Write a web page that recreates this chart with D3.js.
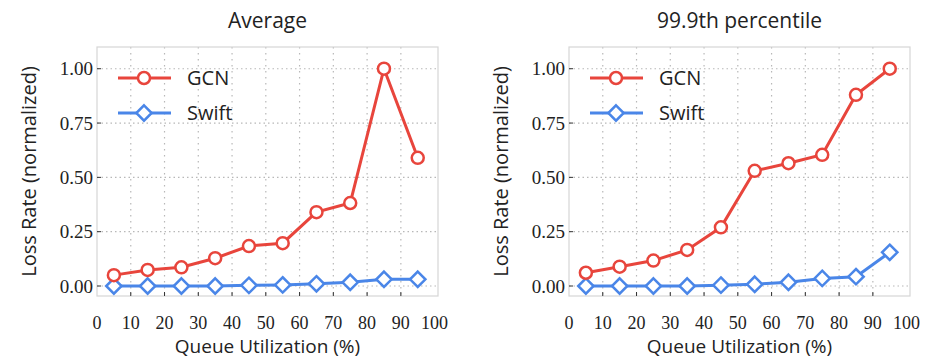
<!DOCTYPE html>
<html>
<head>
<meta charset="utf-8">
<script src="https://cdn.jsdelivr.net/npm/d3@7"></script>
<style>
  body { margin: 0; background: #fff; }
  svg { display: block; }
</style>
</head>
<body>
<div id="chart"></div>
<script>
const width = 928;
const height = 359;

// queue utilization buckets (%)
const utilization = [5, 15, 25, 35, 45, 55, 65, 75, 85, 95];
const xTicks = [0, 10, 20, 30, 40, 50, 60, 70, 80, 90, 100];
const yTicks = [0, 0.25, 0.5, 0.75, 1.0];

const avgGCN = [0.05, 0.074, 0.086, 0.128, 0.184, 0.197, 0.34, 0.382, 1.0, 0.59];
const avgSwift = [0, 0, 0, 0, 0.003, 0.005, 0.01, 0.017, 0.031, 0.031];
const p999GCN = [0.061, 0.089, 0.117, 0.166, 0.27, 0.53, 0.565, 0.604, 0.88, 1.0];
const p999Swift = [0, 0, 0, 0, 0.004, 0.008, 0.017, 0.035, 0.043, 0.155];

const panels = [
    { title: "Average", left: 97, gcn: avgGCN, swift: avgSwift },
    { title: "99.9th percentile", left: 569, gcn: p999GCN, swift: p999Swift }
];

const red = "#e8453c";
const blue = "#4a86e8";
const plotTop = 47;
const plotBottom = 296;
const plotWidth = 341;
const sans = "'Open Sans'";
const serif = "'Liberation Serif'";

const svg = d3.select("#chart")
    .append("svg")
    .attr("width", width)
    .attr("height", height);

panels.forEach(p => {
    const x = d3.scaleLinear().domain([0, 101]).range([p.left, p.left + plotWidth]);
    const y = d3.scaleLinear().domain([-0.046, 1.1]).range([plotBottom, plotTop]);
    const g = svg.append("g");

    // grid
    g.selectAll(".vg").data(xTicks.slice(1, -1)).join("line")
        .attr("x1", d => x(d)).attr("x2", d => x(d))
        .attr("y1", plotTop).attr("y2", plotBottom)
        .attr("stroke", "#b8b8b8").attr("stroke-width", 1.2)
        .attr("stroke-dasharray", "1.5,4.5");
    g.selectAll(".hg").data(yTicks).join("line")
        .attr("x1", p.left).attr("x2", p.left + plotWidth)
        .attr("y1", d => y(d)).attr("y2", d => y(d))
        .attr("stroke", "#b8b8b8").attr("stroke-width", 1.2)
        .attr("stroke-dasharray", "1.5,3");

    // frame
    g.append("rect")
        .attr("x", p.left).attr("y", plotTop)
        .attr("width", plotWidth).attr("height", plotBottom - plotTop)
        .attr("fill", "none").attr("stroke", "#d6d6d6").attr("stroke-width", 1.2);

    // tick marks inside frame
    g.selectAll(".yt").data(yTicks).join("line")
        .attr("x1", p.left).attr("x2", p.left + 4)
        .attr("y1", d => y(d)).attr("y2", d => y(d))
        .attr("stroke", "#333").attr("stroke-width", 1);
    g.selectAll(".xt").data(xTicks.slice(1, -1)).join("line")
        .attr("x1", d => x(d)).attr("x2", d => x(d))
        .attr("y1", plotBottom).attr("y2", plotBottom - 4)
        .attr("stroke", "#333").attr("stroke-width", 1);

    // tick labels
    g.selectAll(".yl").data(yTicks).join("text")
        .attr("x", p.left - 4).attr("y", d => y(d))
        .attr("dy", "0.35em").attr("text-anchor", "end")
        .attr("font-family", serif).attr("font-size", 19)
        .attr("fill", "#222")
        .text(d => d3.format(".2f")(d));
    g.selectAll(".xl").data(xTicks).join("text")
        .attr("x", d => x(d)).attr("y", 329)
        .attr("text-anchor", "middle")
        .attr("font-family", serif).attr("font-size", 18)
        .attr("fill", "#222")
        .text(d => d);

    // titles
    g.append("text")
        .attr("x", p.left + plotWidth / 2).attr("y", 28)
        .attr("text-anchor", "middle")
        .attr("font-family", sans).attr("font-size", 21)
        .attr("fill", "#222").text(p.title);
    g.append("text")
        .attr("x", p.left + plotWidth / 2).attr("y", 353)
        .attr("text-anchor", "middle")
        .attr("font-family", sans).attr("font-size", 19)
        .attr("fill", "#222").text("Queue Utilization (%)");
    g.append("text")
        .attr("transform", `translate(${p.left - 68},${(plotTop + plotBottom) / 2}) rotate(-90)`)
        .attr("dy", "0.35em")
        .attr("text-anchor", "middle")
        .attr("font-family", sans).attr("font-size", 20)
        .attr("fill", "#222").text("Loss Rate (normalized)");

    const line = d3.line().x((d, i) => x(utilization[i])).y(d => y(d));
    const diamond = d3.symbol().type(d3.symbolDiamond2).size(150);

    // Swift
    g.append("path").datum(p.swift)
        .attr("d", line).attr("fill", "none")
        .attr("stroke", blue).attr("stroke-width", 3);
    g.selectAll(".sm").data(p.swift).join("path")
        .attr("transform", (d, i) => `translate(${x(utilization[i])},${y(d)})`)
        .attr("d", diamond)
        .attr("fill", "#fff").attr("stroke", blue).attr("stroke-width", 2.5);

    // GCN
    g.append("path").datum(p.gcn)
        .attr("d", line).attr("fill", "none")
        .attr("stroke", red).attr("stroke-width", 3);
    g.selectAll(".gm").data(p.gcn).join("circle")
        .attr("cx", (d, i) => x(utilization[i])).attr("cy", d => y(d))
        .attr("r", 6)
        .attr("fill", "#fff").attr("stroke", red).attr("stroke-width", 2.5);

    // legend
    const legend = [
        { name: "GCN", color: red, shape: "circle", yy: 78 },
        { name: "Swift", color: blue, shape: "diamond", yy: 113 }
    ];
    legend.forEach(l => {
        const lx = p.left + 21;
        g.append("line")
            .attr("x1", lx).attr("x2", lx + 53)
            .attr("y1", l.yy).attr("y2", l.yy)
            .attr("stroke", l.color).attr("stroke-width", 3);
        if (l.shape === "circle") {
            g.append("circle").attr("cx", lx + 26).attr("cy", l.yy).attr("r", 6)
                .attr("fill", "#fff").attr("stroke", l.color).attr("stroke-width", 2.5);
        } else {
            g.append("path").attr("transform", `translate(${lx + 26},${l.yy})`)
                .attr("d", diamond)
                .attr("fill", "#fff").attr("stroke", l.color).attr("stroke-width", 2.5);
        }
        g.append("text")
            .attr("x", lx + 69).attr("y", l.yy).attr("dy", "0.35em")
            .attr("font-family", sans).attr("font-size", 20)
            .attr("fill", "#222").text(l.name);
    });
});
</script>
</body>
</html>
